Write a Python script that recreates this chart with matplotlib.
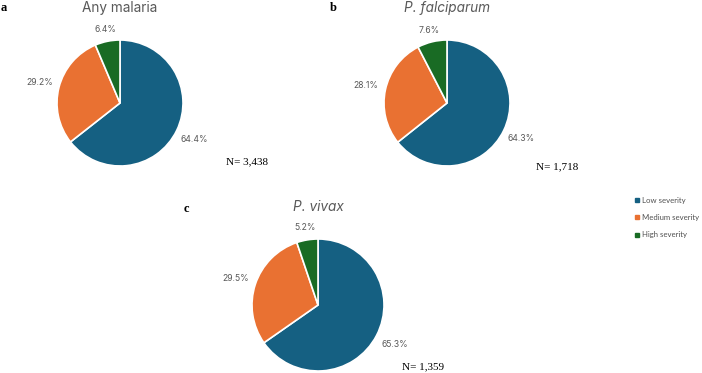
import matplotlib
matplotlib.use("Agg")
import matplotlib.pyplot as plt
from matplotlib.lines import Line2D

categories = ["Low severity", "Medium severity", "High severity"]
any_malaria = [64.4, 29.2, 6.4]
falciparum = [64.3, 28.1, 7.6]
vivax = [65.3, 29.5, 5.2]
titles = ["Any malaria", "P. falciparum", "P. vivax"]
panel_letters = ["a", "b", "c"]
n_labels = ["N= 3,438", "N= 1,718", "N= 1,359"]
colors = ["#156082", "#E97132", "#196B24"]

W, H = 702, 373
fig = plt.figure(figsize=(W / 100, H / 100), dpi=100)

def fx(x):
    return x / W

def fy(y):
    return 1 - y / H

panels = [
    dict(vals=any_malaria, cx=120, cy=103, r=63, ty=8, italic=False, letter=(1, 8), npos=(247, 162)),
    dict(vals=falciparum, cx=447, cy=103, r=63, ty=8, italic=True, letter=(330, 8), npos=(557, 167)),
    dict(vals=vivax, cx=318, cy=305, r=66, ty=207, italic=True, letter=(184, 209), npos=(423, 367)),
]

# label distance factor per slice (relative to pctdistance placement)
label_dist = [1.31, 1.31, 1.19]

for i, p in enumerate(panels):
    cx, cy, r = p["cx"], p["cy"], p["r"]
    ax = fig.add_axes([fx(cx - r), fy(cy + r), 2 * r / W, 2 * r / H])
    wedges, texts, autotexts = ax.pie(
        p["vals"], colors=colors, startangle=90, counterclock=False,
        autopct=lambda v: f"{v:.1f}%", pctdistance=1.0,
        wedgeprops=dict(edgecolor="white", linewidth=1.2),
        textprops=dict(fontsize=6.2, color="#595959", family="Inter"),
    )
    for t, d in zip(autotexts, label_dist):
        x, y = t.get_position()
        t.set_position((x * d, y * d))
    ax.set_xlim(-1, 1)
    ax.set_ylim(-1, 1)
    ax.set_aspect("equal")
    fig.text(fx(cx), fy(p["ty"]), titles[i], ha="center", va="center",
             fontsize=9.8, color="#595959", family="Inter",
             style="italic" if p["italic"] else "normal")
    lx, ly = p["letter"]
    fig.text(fx(lx), fy(ly), panel_letters[i], ha="left", va="center",
             fontsize=9, fontweight="bold", family="Liberation Serif", color="black")
    nx, ny = p["npos"]
    fig.text(fx(nx), fy(ny), n_labels[i], ha="center", va="center",
             fontsize=8, family="Liberation Serif", color="black")

handles = [Line2D([0], [0], marker="s", linestyle="none", markersize=3,
                  markerfacecolor=c, markeredgecolor=c) for c in colors]
leg = fig.legend(handles, categories, loc="upper left",
                 bbox_to_anchor=(fx(628), fy(190)), frameon=False,
                 handlelength=0.6, handletextpad=0.3, labelspacing=1.3,
                 prop=dict(family="Lato", size=5.6), labelcolor="#505050")

fig.savefig("out.png", dpi=100)
